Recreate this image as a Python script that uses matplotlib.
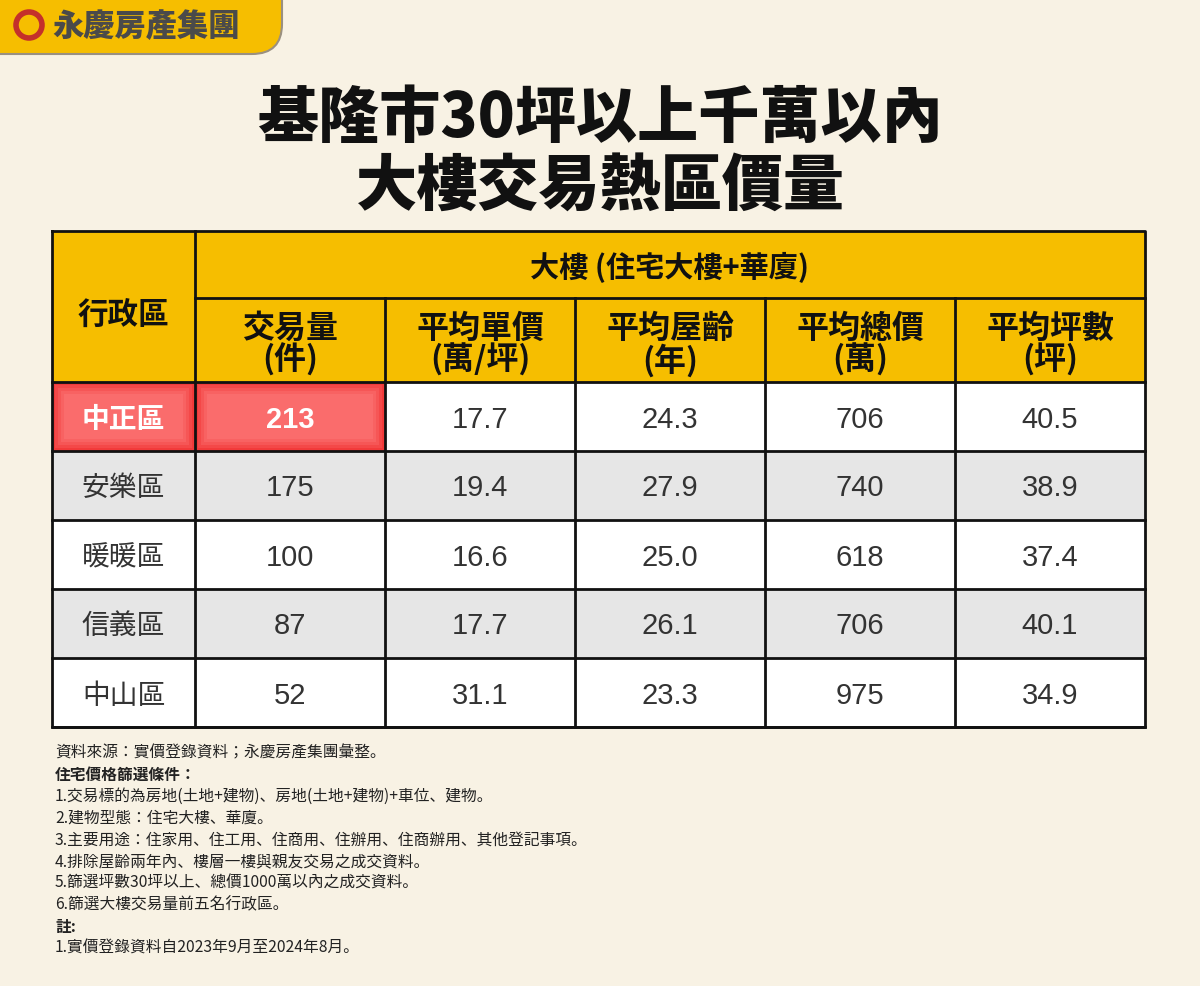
import matplotlib
matplotlib.use("Agg")
import matplotlib.pyplot as plt
from matplotlib.patches import Rectangle, FancyBboxPatch, Circle

FONT = ["Noto Sans CJK JP", "Noto Sans CJK TC", "Noto Sans CJK SC"]
NUMF = ["Liberation Sans", "Noto Sans CJK JP"]
districts = ["中正區", "安樂區", "暖暖區", "信義區", "中山區"]
volume = ["213", "175", "100", "87", "52"]
unit_price = ["17.7", "19.4", "16.6", "17.7", "31.1"]
age = ["24.3", "27.9", "25.0", "26.1", "23.3"]
total_price = ["706", "740", "618", "706", "975"]
area = ["40.5", "38.9", "37.4", "40.1", "34.9"]
col_headers = ["交易量\n(件)", "平均單價\n(萬/坪)", "平均屋齡\n(年)", "平均總價\n(萬)", "平均坪數\n(坪)"]
notes = ["資料來源：實價登錄資料；永慶房產集團彙整。", "住宅價格篩選條件：",
         "1.交易標的為房地(土地+建物)、房地(土地+建物)+車位、建物。",
         "2.建物型態：住宅大樓、華廈。",
         "3.主要用途：住家用、住工用、住商用、住辦用、住商辦用、其他登記事項。",
         "4.排除屋齡兩年內、樓層一樓與親友交易之成交資料。",
         "5.篩選坪數30坪以上、總價1000萬以內之成交資料。",
         "6.篩選大樓交易量前五名行政區。", "註:",
         "1.實價登錄資料自2023年9月至2024年8月。"]
bold_notes = {1, 8}

fig = plt.figure(figsize=(12, 9.87), dpi=100)
fig.patch.set_facecolor("#F8F2E4")
ax = fig.add_axes([0, 0, 1, 1])
ax.set_xlim(0, 1200); ax.set_ylim(987, 0); ax.axis("off")

YEL = "#F6BE00"
# logo banner
ax.add_patch(FancyBboxPatch((-40, -40), 322, 95, boxstyle="round,pad=0,rounding_size=30",
                            fc=YEL, ec="#9a9080", lw=1.5))
ax.add_patch(Circle((29, 26), 13, fc="none", ec="#C4302B", lw=4))
ax.text(52, 26, "永慶房產集團", fontfamily=FONT, fontsize=22.5, fontweight="black",
        color="#4a4a4a", va="center", ha="left")

ax.text(600, 119, "基隆市30坪以上千萬以內", fontfamily=FONT, fontsize=44, fontweight="black",
        ha="center", va="center", color="#111")
ax.text(600, 187, "大樓交易熱區價量", fontfamily=FONT, fontsize=44, fontweight="black",
        ha="center", va="center", color="#111")

xs = [52, 195, 385, 575, 765, 955, 1145]
top, split, hbot = 232, 299, 383
rh = 69
ax.add_patch(Rectangle((52, top), 1093, hbot - top, fc=YEL, ec="none"))
rows = list(zip(districts, volume, unit_price, age, total_price, area))
for i, r in enumerate(rows):
    y0 = hbot + i * rh
    fc = "white" if i % 2 == 0 else "#E6E6E6"
    ax.add_patch(Rectangle((52, y0), 1093, rh, fc=fc, ec="none"))
    for j, val in enumerate(r):
        xc = (xs[j] + xs[j + 1]) / 2
        hl = (i == 0 and j < 2)
        if hl:
            w = xs[j + 1] - xs[j]
            ax.add_patch(Rectangle((xs[j], y0), w, rh, fc="#F23A3A", ec="none"))
            for k, c in enumerate(["#F44848", "#F65656", "#F86262", "#FA6C6C"]):
                d = 3 + 3 * k
                ax.add_patch(Rectangle((xs[j] + d, y0 + d), w - 2 * d, rh - 2 * d, fc=c, ec="none"))
        if j == 0:
            ax.text(xc, y0 + rh / 2 + 2, val, fontfamily=FONT, fontsize=20,
                    fontweight="bold" if hl else "normal",
                    color="white" if hl else "#333", ha="center", va="center")
        else:
            ax.text(xc, y0 + rh / 2 + 2, val, fontfamily=NUMF, fontsize=21,
                    fontweight="bold" if hl else "normal",
                    color="white" if hl else "#333", ha="center", va="center")
# header texts
ax.text((xs[0] + xs[1]) / 2, (top + hbot) / 2 + 8, "行政區", fontfamily=FONT, fontsize=22,
        fontweight="bold", ha="center", va="center", color="#111")
ax.text((xs[1] + xs[6]) / 2, (top + split) / 2 + 2, "大樓 (住宅大樓+華廈)", fontfamily=FONT,
        fontsize=21, fontweight="bold", ha="center", va="center", color="#111")
for j, h in enumerate(col_headers):
    ax.text((xs[j + 1] + xs[j + 2]) / 2, (split + hbot) / 2 + 4, h, fontfamily=FONT, fontsize=23,
            fontweight="bold", ha="center", va="center", color="#111", linespacing=0.95)
# grid lines
bottom = hbot + 5 * rh
kw = dict(color="#111", lw=2)
ax.plot([52, 1145, 1145, 52, 52], [top, top, bottom, bottom, top], **kw)
ax.plot([195, 1145], [split, split], **kw)
for k in range(6):
    ax.plot([52, 1145], [hbot + k * rh] * 2, **kw)
ax.plot([195, 195], [top, bottom], **kw)
for x in xs[2:6]:
    ax.plot([x, x], [split, bottom], **kw)

for k, n in enumerate(notes):
    ax.text(55, 753 + k * 21.7, n, fontfamily=FONT, fontsize=11.3,
            fontweight="bold" if k in bold_notes else "normal", color="#222", va="center")

fig.savefig("out.png", dpi=100, facecolor=fig.get_facecolor())
